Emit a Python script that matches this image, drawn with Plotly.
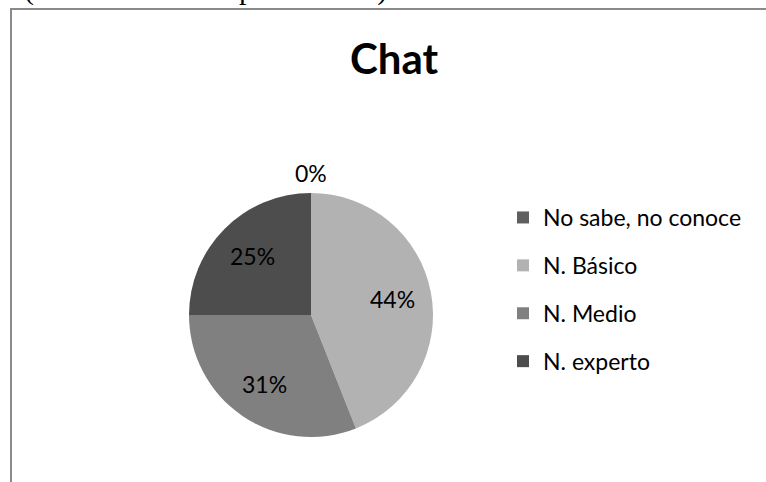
import math
import plotly.graph_objects as go

# Data
categories = ["No sabe, no conoce", "N. Básico", "N. Medio", "N. experto"]
values = [0, 44, 31, 25]
colors = ["#5f5f5f", "#b2b2b2", "#808080", "#4d4d4d"]
title_text = "Chat"
caption_text = "(Datos recabados por el autor)."

W, H = 766, 482
FONT = "Lato, Calibri, 'Open Sans', sans-serif"
LABEL_SIZE = 23

def px_x(x):
    return x / W

def px_y(y):
    return 1 - y / H

cx, cy, R = 311, 315, 122

fig = go.Figure()

fig.add_trace(go.Pie(
    labels=categories,
    values=values,
    sort=False,
    direction="clockwise",
    rotation=0,
    marker=dict(colors=colors, line=dict(width=0)),
    textinfo="none",
    showlegend=False,
    hoverinfo="label+percent",
    domain=dict(x=[px_x(cx - R), px_x(cx + R)], y=[px_y(cy + R), px_y(cy - R)]),
))

# Legend entries (one per category, so their spacing can be set)
for i, (name, col) in enumerate(zip(categories, colors)):
    fig.add_trace(go.Scatter(
        x=[None], y=[None], mode="markers", name=name,
        marker=dict(symbol="square", size=14, color=col),
        legendgroup=f"g{i}", showlegend=True,
    ))

# Percentage labels placed along each slice's bisector (Excel-style)
total = sum(values)
cum = 0.0
for v in values:
    frac = v / total
    mid = (cum + frac / 2) * 2 * math.pi
    cum += frac
    r = R + 20 if v == 0 else 0.68 * R
    lx = cx + r * math.sin(mid)
    ly = cy - r * math.cos(mid)
    fig.add_annotation(
        x=px_x(lx), y=px_y(ly), xref="paper", yref="paper",
        text=f"{frac * 100:.0f}%", showarrow=False,
        font=dict(family=FONT, size=LABEL_SIZE, color="#000000"),
        xanchor="center", yanchor="middle",
    )

# Title
fig.add_annotation(
    x=px_x(394), y=px_y(58), xref="paper", yref="paper",
    text=f"<b>{title_text}</b>", showarrow=False,
    font=dict(family=FONT, size=42, color="#000000"),
    xanchor="center", yanchor="middle",
)

# Caption cut off at the top (as in the reference)
fig.add_annotation(
    x=px_x(22), y=px_y(8), xref="paper", yref="paper",
    text=caption_text, showarrow=False,
    font=dict(family="Liberation Serif, Times New Roman, serif", size=30, color="#000000"),
    xanchor="left", yanchor="bottom",
)

# Chart frame
fig.add_shape(
    type="rect", xref="paper", yref="paper",
    x0=px_x(11), y0=px_y(9), x1=1.1, y1=-0.1,
    line=dict(color="#8a8a8a", width=2), fillcolor="rgba(0,0,0,0)",
)

fig.update_layout(
    width=W, height=H,
    margin=dict(l=0, r=0, t=0, b=0),
    paper_bgcolor="white", plot_bgcolor="white",
    xaxis=dict(visible=False), yaxis=dict(visible=False),
    showlegend=True,
    legend=dict(
        x=px_x(503), y=px_y(196), xanchor="left", yanchor="top",
        font=dict(family=FONT, size=23, color="#000000"),
        tracegroupgap=15, itemsizing="constant", bgcolor="rgba(0,0,0,0)",
    ),
)

fig.write_html(
    "out.html",
    config={"displayModeBar": False},
    post_script="document.body.style.margin='0px';document.body.style.overflow='hidden';",
)
